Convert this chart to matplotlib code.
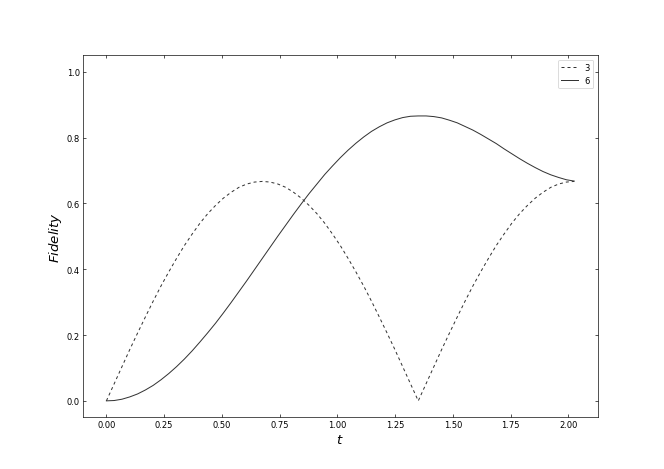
import matplotlib
matplotlib.use("Agg")
import matplotlib.pyplot as plt

# time samples (step 0.03375)
t = [0.0000, 0.03375, 0.0675, 0.10125, 0.135, 0.16875, 0.2025, 0.23625, 0.27, 0.30375,
     0.3375, 0.37125, 0.405, 0.43875, 0.4725, 0.50625, 0.54, 0.57375, 0.6075, 0.64125,
     0.675, 0.70875, 0.7425, 0.77625, 0.81, 0.84375, 0.8775, 0.91125, 0.945, 0.97875,
     1.0125, 1.04625, 1.08, 1.11375, 1.1475, 1.18125, 1.215, 1.24875, 1.2825, 1.31625,
     1.35, 1.38375, 1.4175, 1.45125, 1.485, 1.51875, 1.5525, 1.58625, 1.62, 1.65375,
     1.6875, 1.72125, 1.755, 1.78875, 1.8225, 1.85625, 1.89, 1.92375, 1.9575, 1.99125,
     2.025]

# fidelity, chain length 3 (dashed)
fid_3 = [0.000, 0.052, 0.104, 0.156, 0.206, 0.255, 0.303, 0.349, 0.392, 0.433,
         0.472, 0.507, 0.540, 0.569, 0.594, 0.616, 0.634, 0.649, 0.659, 0.665,
         0.667, 0.665, 0.659, 0.649, 0.634, 0.616, 0.594, 0.569, 0.540, 0.507,
         0.472, 0.433, 0.392, 0.349, 0.303, 0.255, 0.206, 0.156, 0.104, 0.052,
         0.000, 0.052, 0.104, 0.156, 0.206, 0.255, 0.303, 0.349, 0.392, 0.433,
         0.472, 0.507, 0.540, 0.569, 0.594, 0.616, 0.634, 0.649, 0.659, 0.665,
         0.667]

# fidelity, chain length 6 (solid)
fid_6 = [0.000, 0.001, 0.005, 0.012, 0.021, 0.033, 0.047, 0.064, 0.083, 0.104,
         0.127, 0.152, 0.179, 0.207, 0.236, 0.267, 0.299, 0.332, 0.365, 0.399,
         0.433, 0.467, 0.501, 0.534, 0.567, 0.599, 0.630, 0.659, 0.688, 0.714,
         0.739, 0.762, 0.783, 0.802, 0.819, 0.833, 0.845, 0.854, 0.861, 0.865,
         0.866, 0.866, 0.864, 0.860, 0.853, 0.845, 0.834, 0.823, 0.810, 0.796,
         0.782, 0.766, 0.751, 0.736, 0.722, 0.709, 0.697, 0.687, 0.679, 0.672,
         0.668]

# big figure at low dpi, so default fonts come out small like the original
fig, ax = plt.subplots(figsize=(11.0667, 7.8333), dpi=60)

ax.plot(t, fid_3, color="#333333", lw=1.2, linestyle=(0, (3, 3)), label="3")
ax.plot(t, fid_6, color="#333333", lw=1.2, linestyle="-", label="6")

ax.set_ylim(-0.05, 1.05)
ax.set_xticks([0.0, 0.25, 0.5, 0.75, 1.0, 1.25, 1.5, 1.75, 2.0])
ax.set_xticklabels(["0.00", "0.25", "0.50", "0.75", "1.00", "1.25", "1.50", "1.75", "2.00"])
ax.set_yticks([0.0, 0.2, 0.4, 0.6, 0.8, 1.0])
ax.tick_params(direction="in", top=True, right=True)

ax.set_xlabel("$t$", fontsize=16)
ax.set_ylabel("$Fidelity$", fontsize=16)

ax.legend(loc="upper right")

plt.savefig("out.png", dpi=60)
plt.close()
